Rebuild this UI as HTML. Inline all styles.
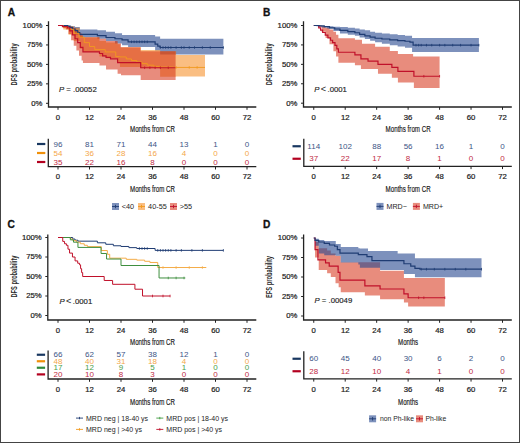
<!DOCTYPE html>
<html><head><meta charset="utf-8"><style>
html,body{margin:0;padding:0;background:#fff;}
body{width:520px;height:443px;overflow:hidden;position:relative;}
svg{position:absolute;left:0;top:0;font-family:"Liberation Sans", sans-serif;}
.frame{position:absolute;left:0;top:0;width:520px;height:443px;box-sizing:border-box;border:1.25px solid #444;}
</style></head><body>
<svg width="520" height="443" viewBox="0 0 520 443">
<rect x="0" y="0" width="520" height="443" fill="#fff"/>
<g>
<text x="7.80" y="15.80" font-size="10.20" fill="#111" text-anchor="start" font-weight="bold" stroke="#111" stroke-width="0.3">A</text>
<path d="M58.00 25.50 L67.71 25.50 L67.71 25.50 L71.12 25.50 L71.12 26.28 L75.06 26.28 L75.06 27.06 L79.79 27.06 L79.79 29.47 L97.38 29.47 L97.38 30.17 L106.04 30.17 L106.04 31.72 L114.96 31.72 L114.96 33.28 L122.05 33.28 L122.05 34.99 L128.09 34.99 L128.09 34.99 L155.12 34.99 L155.12 36.39 L160.11 36.39 L160.11 38.73 L223.38 38.73 L223.38 54.44 L160.11 54.44 L160.11 50.40 L155.12 50.40 L155.12 46.97 L128.09 46.97 L128.09 45.34 L122.05 45.34 L122.05 43.39 L114.96 43.39 L114.96 41.06 L106.04 41.06 L106.04 38.73 L97.38 38.73 L97.38 37.17 L79.79 37.17 L79.79 34.84 L75.06 34.84 L75.06 30.95 L71.12 30.95 L71.12 27.83 L67.71 27.83 L67.71 25.50 L58.00 25.50 Z" fill="#26488f" fill-opacity="0.6"/>
<path d="M58.00 25.50 L63.25 25.50 L63.25 25.50 L68.50 25.50 L68.50 26.28 L73.75 26.28 L73.75 27.83 L79.79 27.83 L79.79 35.61 L82.94 35.61 L82.94 37.17 L99.47 37.17 L99.47 41.06 L106.04 41.06 L106.04 42.62 L117.59 42.62 L117.59 44.17 L119.95 44.17 L119.95 47.28 L140.69 47.28 L140.69 50.01 L160.11 50.01 L160.11 51.17 L176.12 51.17 L176.12 55.06 L205.00 55.06 L205.00 76.54 L176.12 76.54 L176.12 76.85 L160.11 76.85 L160.11 68.29 L140.69 68.29 L140.69 66.97 L119.95 66.97 L119.95 62.84 L117.59 62.84 L117.59 58.18 L106.04 58.18 L106.04 56.62 L99.47 56.62 L99.47 51.95 L82.94 51.95 L82.94 48.84 L79.79 48.84 L79.79 41.06 L73.75 41.06 L73.75 34.84 L68.50 34.84 L68.50 29.39 L63.25 29.39 L63.25 25.50 L58.00 25.50 Z" fill="#f57d05" fill-opacity="0.5"/>
<path d="M58.00 25.50 L63.25 25.50 L63.25 25.50 L65.88 25.50 L65.88 25.50 L68.50 25.50 L68.50 26.28 L71.12 26.28 L71.12 27.06 L73.75 27.06 L73.75 28.61 L76.38 28.61 L76.38 30.95 L79.00 30.95 L79.00 33.28 L81.62 33.28 L81.62 35.61 L82.94 35.61 L82.94 37.17 L99.47 37.17 L99.47 38.73 L106.04 38.73 L106.04 41.06 L117.59 41.06 L117.59 43.39 L121.00 43.39 L121.00 47.28 L140.69 47.28 L140.69 51.17 L175.60 51.17 L175.60 79.96 L140.69 79.96 L140.69 75.29 L121.00 75.29 L121.00 73.74 L117.59 73.74 L117.59 69.38 L106.04 69.38 L106.04 65.57 L99.47 65.57 L99.47 63.00 L82.94 63.00 L82.94 60.51 L81.62 60.51 L81.62 55.84 L79.00 55.84 L79.00 50.40 L76.38 50.40 L76.38 45.73 L73.75 45.73 L73.75 40.28 L71.12 40.28 L71.12 34.06 L68.50 34.06 L68.50 29.39 L65.88 29.39 L65.88 27.83 L63.25 27.83 L63.25 25.50 L58.00 25.50 Z" fill="#d52e13" fill-opacity="0.55"/>
<path d="M58.00 25.50 H67.71 V26.28 H69.81 V27.45 H72.44 V29.00 H75.06 V30.56 H77.69 V32.50 H79.79 V34.37 H97.38 V35.61 H106.04 V37.48 H114.96 V38.73 H122.05 V39.97 H128.09 V41.84 H155.12 V44.17 H157.75 V46.12 H160.11 V47.52 H223.38" fill="none" stroke="#1f3c73" stroke-width="1.2"/>
<path d="M58.00 25.50 H63.25 V27.06 H68.50 V29.39 H73.75 V33.28 H79.00 V37.17 H84.25 V42.62 H89.50 V46.51 H94.75 V49.62 H105.25 V51.95 H115.75 V56.62 H119.95 V56.93 H126.25 V58.95 H131.50 V60.51 H136.75 V62.07 H142.00 V63.62 H147.25 V65.18 H153.81 V66.34 H160.38 V67.05 H173.50 V67.43 H205.00" fill="none" stroke="#f29a1e" stroke-width="0.9"/>
<path d="M58.00 25.50 H62.46 V26.67 H67.45 V27.83 H69.81 V30.95 H72.44 V34.84 H75.06 V38.73 H77.69 V42.62 H80.31 V47.28 H82.94 V51.95 H99.47 V53.51 H102.62 V55.84 H106.04 V57.32 H110.50 V58.95 H117.59 V62.53 H140.69 V67.75 H175.60" fill="none" stroke="#c0102a" stroke-width="1.2"/>
<path d="M131.50 40.54 V43.14 M134.12 40.54 V43.14 M136.75 40.54 V43.14 M139.38 40.54 V43.14 M142.00 40.54 V43.14 M144.62 40.54 V43.14 M147.25 40.54 V43.14 " stroke="#1f3c73" stroke-width="0.8"/>
<path d="M160.38 46.22 V48.82 M163.00 46.22 V48.82 M165.62 46.22 V48.82 M168.25 46.22 V48.82 M170.88 46.22 V48.82 M176.12 46.22 V48.82 M181.38 46.22 V48.82 M184.00 46.22 V48.82 M189.25 46.22 V48.82 M194.50 46.22 V48.82 M202.38 46.22 V48.82 M210.25 46.22 V48.82 M223.38 46.22 V48.82 " stroke="#1f3c73" stroke-width="0.8"/>
<path d="M176.12 66.13 V68.73 M189.25 66.13 V68.73 M197.12 66.13 V68.73 " stroke="#f29a1e" stroke-width="0.8"/>
<path d="M144.62 66.45 V69.05 M149.88 66.45 V69.05 M155.12 66.45 V69.05 M160.38 66.45 V69.05 M168.25 66.45 V69.05 " stroke="#c0102a" stroke-width="0.8"/>
<path d="M48.50 21.30 V107.00 H256.30" fill="none" stroke="#222" stroke-width="1.3"/>
<path d="M46.00 25.50 H48.50" stroke="#222" stroke-width="1"/>
<text x="42.40" y="27.85" font-size="6.90" fill="#1e1e1e" text-anchor="end" font-weight="normal" stroke="#1e1e1e" stroke-width="0.2" textLength="19.77" lengthAdjust="spacingAndGlyphs">100%</text>
<path d="M46.00 44.95 H48.50" stroke="#222" stroke-width="1"/>
<text x="42.40" y="47.30" font-size="6.90" fill="#1e1e1e" text-anchor="end" font-weight="normal" stroke="#1e1e1e" stroke-width="0.2" textLength="15.47" lengthAdjust="spacingAndGlyphs">75%</text>
<path d="M46.00 64.40 H48.50" stroke="#222" stroke-width="1"/>
<text x="42.40" y="66.75" font-size="6.90" fill="#1e1e1e" text-anchor="end" font-weight="normal" stroke="#1e1e1e" stroke-width="0.2" textLength="15.47" lengthAdjust="spacingAndGlyphs">50%</text>
<path d="M46.00 83.85 H48.50" stroke="#222" stroke-width="1"/>
<text x="42.40" y="86.20" font-size="6.90" fill="#1e1e1e" text-anchor="end" font-weight="normal" stroke="#1e1e1e" stroke-width="0.2" textLength="15.47" lengthAdjust="spacingAndGlyphs">25%</text>
<path d="M46.00 103.30 H48.50" stroke="#222" stroke-width="1"/>
<text x="42.40" y="105.65" font-size="6.90" fill="#1e1e1e" text-anchor="end" font-weight="normal" stroke="#1e1e1e" stroke-width="0.2" textLength="11.17" lengthAdjust="spacingAndGlyphs">0%</text>
<path d="M58.00 107.00 V109.80" stroke="#222" stroke-width="1"/>
<text x="58.00" y="119.70" font-size="6.90" fill="#1e1e1e" text-anchor="middle" font-weight="normal" stroke="#1e1e1e" stroke-width="0.2" textLength="4.30" lengthAdjust="spacingAndGlyphs">0</text>
<path d="M89.50 107.00 V109.80" stroke="#222" stroke-width="1"/>
<text x="89.50" y="119.70" font-size="6.90" fill="#1e1e1e" text-anchor="middle" font-weight="normal" stroke="#1e1e1e" stroke-width="0.2" textLength="8.60" lengthAdjust="spacingAndGlyphs">12</text>
<path d="M121.00 107.00 V109.80" stroke="#222" stroke-width="1"/>
<text x="121.00" y="119.70" font-size="6.90" fill="#1e1e1e" text-anchor="middle" font-weight="normal" stroke="#1e1e1e" stroke-width="0.2" textLength="8.60" lengthAdjust="spacingAndGlyphs">24</text>
<path d="M152.50 107.00 V109.80" stroke="#222" stroke-width="1"/>
<text x="152.50" y="119.70" font-size="6.90" fill="#1e1e1e" text-anchor="middle" font-weight="normal" stroke="#1e1e1e" stroke-width="0.2" textLength="8.60" lengthAdjust="spacingAndGlyphs">36</text>
<path d="M184.00 107.00 V109.80" stroke="#222" stroke-width="1"/>
<text x="184.00" y="119.70" font-size="6.90" fill="#1e1e1e" text-anchor="middle" font-weight="normal" stroke="#1e1e1e" stroke-width="0.2" textLength="8.60" lengthAdjust="spacingAndGlyphs">48</text>
<path d="M215.50 107.00 V109.80" stroke="#222" stroke-width="1"/>
<text x="215.50" y="119.70" font-size="6.90" fill="#1e1e1e" text-anchor="middle" font-weight="normal" stroke="#1e1e1e" stroke-width="0.2" textLength="8.60" lengthAdjust="spacingAndGlyphs">60</text>
<path d="M247.00 107.00 V109.80" stroke="#222" stroke-width="1"/>
<text x="247.00" y="119.70" font-size="6.90" fill="#1e1e1e" text-anchor="middle" font-weight="normal" stroke="#1e1e1e" stroke-width="0.2" textLength="8.60" lengthAdjust="spacingAndGlyphs">72</text>
<text x="0" y="0" font-size="8.7" font-weight="bold" fill="#2a2a2a" text-anchor="middle" textLength="42.0" lengthAdjust="spacingAndGlyphs" transform="translate(17.40 64.40) rotate(-90)">DFS probability</text>
<text x="59.00" y="91.50" font-size="7.75" fill="#222" text-anchor="start" font-weight="normal" stroke="#222" stroke-width="0.15"><tspan font-style="italic">P</tspan> = .00052</text>
<text x="152.50" y="131.90" font-size="9.00" fill="#1a1a1a" text-anchor="middle" font-weight="normal" stroke="#1a1a1a" stroke-width="0.18" textLength="45.0" lengthAdjust="spacingAndGlyphs">Months from CR</text>
<path d="M48.30 138.80 V166.70 H256.30" fill="none" stroke="#222" stroke-width="1.3"/>
<path d="M37.00 144.00 H45.30" stroke="#183760" stroke-width="2.2"/>
<text x="58.00" y="146.50" font-size="7.00" fill="#3d5586" text-anchor="middle" font-weight="normal"  textLength="8.95" lengthAdjust="spacingAndGlyphs">96</text>
<text x="89.50" y="146.50" font-size="7.00" fill="#3d5586" text-anchor="middle" font-weight="normal"  textLength="8.95" lengthAdjust="spacingAndGlyphs">81</text>
<text x="121.00" y="146.50" font-size="7.00" fill="#3d5586" text-anchor="middle" font-weight="normal"  textLength="8.95" lengthAdjust="spacingAndGlyphs">71</text>
<text x="152.50" y="146.50" font-size="7.00" fill="#3d5586" text-anchor="middle" font-weight="normal"  textLength="8.95" lengthAdjust="spacingAndGlyphs">44</text>
<text x="184.00" y="146.50" font-size="7.00" fill="#3d5586" text-anchor="middle" font-weight="normal"  textLength="8.95" lengthAdjust="spacingAndGlyphs">13</text>
<text x="215.50" y="146.50" font-size="7.00" fill="#3d5586" text-anchor="middle" font-weight="normal"  textLength="4.48" lengthAdjust="spacingAndGlyphs">1</text>
<text x="247.00" y="146.50" font-size="7.00" fill="#3d5586" text-anchor="middle" font-weight="normal"  textLength="4.48" lengthAdjust="spacingAndGlyphs">0</text>
<path d="M37.00 153.00 H45.30" stroke="#f0900a" stroke-width="2.2"/>
<text x="58.00" y="155.50" font-size="7.00" fill="#f4a74a" text-anchor="middle" font-weight="normal"  textLength="8.95" lengthAdjust="spacingAndGlyphs">54</text>
<text x="89.50" y="155.50" font-size="7.00" fill="#f4a74a" text-anchor="middle" font-weight="normal"  textLength="8.95" lengthAdjust="spacingAndGlyphs">36</text>
<text x="121.00" y="155.50" font-size="7.00" fill="#f4a74a" text-anchor="middle" font-weight="normal"  textLength="8.95" lengthAdjust="spacingAndGlyphs">28</text>
<text x="152.50" y="155.50" font-size="7.00" fill="#f4a74a" text-anchor="middle" font-weight="normal"  textLength="8.95" lengthAdjust="spacingAndGlyphs">16</text>
<text x="184.00" y="155.50" font-size="7.00" fill="#f4a74a" text-anchor="middle" font-weight="normal"  textLength="4.48" lengthAdjust="spacingAndGlyphs">4</text>
<text x="215.50" y="155.50" font-size="7.00" fill="#f4a74a" text-anchor="middle" font-weight="normal"  textLength="4.48" lengthAdjust="spacingAndGlyphs">0</text>
<text x="247.00" y="155.50" font-size="7.00" fill="#f4a74a" text-anchor="middle" font-weight="normal"  textLength="4.48" lengthAdjust="spacingAndGlyphs">0</text>
<path d="M37.00 162.00 H45.30" stroke="#b3001f" stroke-width="2.2"/>
<text x="58.00" y="164.50" font-size="7.00" fill="#c02a45" text-anchor="middle" font-weight="normal"  textLength="8.95" lengthAdjust="spacingAndGlyphs">35</text>
<text x="89.50" y="164.50" font-size="7.00" fill="#c02a45" text-anchor="middle" font-weight="normal"  textLength="8.95" lengthAdjust="spacingAndGlyphs">22</text>
<text x="121.00" y="164.50" font-size="7.00" fill="#c02a45" text-anchor="middle" font-weight="normal"  textLength="8.95" lengthAdjust="spacingAndGlyphs">16</text>
<text x="152.50" y="164.50" font-size="7.00" fill="#c02a45" text-anchor="middle" font-weight="normal"  textLength="4.48" lengthAdjust="spacingAndGlyphs">8</text>
<text x="184.00" y="164.50" font-size="7.00" fill="#c02a45" text-anchor="middle" font-weight="normal"  textLength="4.48" lengthAdjust="spacingAndGlyphs">0</text>
<text x="215.50" y="164.50" font-size="7.00" fill="#c02a45" text-anchor="middle" font-weight="normal"  textLength="4.48" lengthAdjust="spacingAndGlyphs">0</text>
<text x="247.00" y="164.50" font-size="7.00" fill="#c02a45" text-anchor="middle" font-weight="normal"  textLength="4.48" lengthAdjust="spacingAndGlyphs">0</text>
<path d="M58.00 166.70 V169.50" stroke="#222" stroke-width="1"/>
<text x="58.00" y="179.40" font-size="6.90" fill="#1e1e1e" text-anchor="middle" font-weight="normal" stroke="#1e1e1e" stroke-width="0.2" textLength="4.30" lengthAdjust="spacingAndGlyphs">0</text>
<path d="M89.50 166.70 V169.50" stroke="#222" stroke-width="1"/>
<text x="89.50" y="179.40" font-size="6.90" fill="#1e1e1e" text-anchor="middle" font-weight="normal" stroke="#1e1e1e" stroke-width="0.2" textLength="8.60" lengthAdjust="spacingAndGlyphs">12</text>
<path d="M121.00 166.70 V169.50" stroke="#222" stroke-width="1"/>
<text x="121.00" y="179.40" font-size="6.90" fill="#1e1e1e" text-anchor="middle" font-weight="normal" stroke="#1e1e1e" stroke-width="0.2" textLength="8.60" lengthAdjust="spacingAndGlyphs">24</text>
<path d="M152.50 166.70 V169.50" stroke="#222" stroke-width="1"/>
<text x="152.50" y="179.40" font-size="6.90" fill="#1e1e1e" text-anchor="middle" font-weight="normal" stroke="#1e1e1e" stroke-width="0.2" textLength="8.60" lengthAdjust="spacingAndGlyphs">36</text>
<path d="M184.00 166.70 V169.50" stroke="#222" stroke-width="1"/>
<text x="184.00" y="179.40" font-size="6.90" fill="#1e1e1e" text-anchor="middle" font-weight="normal" stroke="#1e1e1e" stroke-width="0.2" textLength="8.60" lengthAdjust="spacingAndGlyphs">48</text>
<path d="M215.50 166.70 V169.50" stroke="#222" stroke-width="1"/>
<text x="215.50" y="179.40" font-size="6.90" fill="#1e1e1e" text-anchor="middle" font-weight="normal" stroke="#1e1e1e" stroke-width="0.2" textLength="8.60" lengthAdjust="spacingAndGlyphs">60</text>
<path d="M247.00 166.70 V169.50" stroke="#222" stroke-width="1"/>
<text x="247.00" y="179.40" font-size="6.90" fill="#1e1e1e" text-anchor="middle" font-weight="normal" stroke="#1e1e1e" stroke-width="0.2" textLength="8.60" lengthAdjust="spacingAndGlyphs">72</text>
<text x="152.50" y="191.60" font-size="9.00" fill="#1a1a1a" text-anchor="middle" font-weight="normal" stroke="#1a1a1a" stroke-width="0.18" textLength="45.0" lengthAdjust="spacingAndGlyphs">Months from CR</text>
<rect x="112.00" y="203.00" width="7" height="7" fill="#26488f" fill-opacity="0.60"/>
<path d="M112.00 206.50 H119.00 M115.50 204.80 V208.20" stroke="#1f3c73" stroke-width="0.9"/>
<text x="121.80" y="208.90" font-size="7.30" fill="#1e1e1e" text-anchor="start" font-weight="normal" >&lt;40</text>
<rect x="138.00" y="203.00" width="7" height="7" fill="#f57d05" fill-opacity="0.50"/>
<path d="M138.00 206.50 H145.00 M141.50 204.80 V208.20" stroke="#f29a1e" stroke-width="0.9"/>
<text x="148.10" y="208.90" font-size="7.30" fill="#1e1e1e" text-anchor="start" font-weight="normal" >40-55</text>
<rect x="170.00" y="203.00" width="7" height="7" fill="#d52e13" fill-opacity="0.55"/>
<path d="M170.00 206.50 H177.00 M173.50 204.80 V208.20" stroke="#c0102a" stroke-width="0.9"/>
<text x="179.80" y="208.90" font-size="7.30" fill="#1e1e1e" text-anchor="start" font-weight="normal" >&gt;55</text>
</g>
<g>
<text x="263.10" y="15.70" font-size="10.20" fill="#111" text-anchor="start" font-weight="bold" stroke="#111" stroke-width="0.3">B</text>
<path d="M313.75 25.50 L317.94 25.50 L317.94 25.50 L321.61 25.50 L321.61 26.28 L325.55 26.28 L325.55 27.83 L329.48 27.83 L329.48 29.39 L333.41 29.39 L333.41 31.72 L336.03 31.72 L336.03 34.82 L338.39 34.82 L338.39 38.17 L354.91 38.17 L354.91 39.80 L360.94 39.80 L360.94 39.80 L361.99 39.80 L361.99 43.68 L375.09 43.68 L375.09 46.87 L377.98 46.87 L377.98 46.87 L389.77 46.87 L389.77 50.91 L391.87 50.91 L391.87 50.91 L397.90 50.91 L397.90 54.02 L413.10 54.02 L413.10 56.42 L413.89 56.42 L413.89 56.42 L439.58 56.42 L439.58 87.97 L413.89 87.97 L413.89 82.53 L413.10 82.53 L413.10 82.53 L397.90 82.53 L397.90 77.71 L391.87 77.71 L391.87 73.83 L389.77 73.83 L389.77 73.83 L377.98 73.83 L377.98 69.01 L375.09 69.01 L375.09 69.01 L361.99 69.01 L361.99 69.01 L360.94 69.01 L360.94 65.13 L354.91 65.13 L354.91 62.87 L338.39 62.87 L338.39 56.58 L336.03 56.58 L336.03 51.14 L333.41 51.14 L333.41 44.15 L329.48 44.15 L329.48 37.93 L325.55 37.93 L325.55 31.72 L321.61 31.72 L321.61 27.05 L317.94 27.05 L317.94 25.50 L313.75 25.50 Z" fill="#d52e13" fill-opacity="0.55"/>
<path d="M313.75 25.50 L316.37 25.50 L316.37 25.50 L321.61 25.50 L321.61 25.89 L326.86 25.89 L326.86 26.28 L333.41 26.28 L333.41 26.67 L339.97 26.67 L339.97 27.05 L347.83 27.05 L347.83 27.83 L354.91 27.83 L354.91 28.61 L359.63 28.61 L359.63 29.39 L364.87 29.39 L364.87 30.32 L370.11 30.32 L370.11 31.72 L375.09 31.72 L375.09 32.73 L381.91 32.73 L381.91 33.43 L389.77 33.43 L389.77 34.20 L397.64 34.20 L397.64 35.06 L404.98 35.06 L404.98 35.83 L412.06 35.83 L412.06 38.01 L478.90 38.01 L478.90 51.92 L412.06 51.92 L412.06 47.72 L404.98 47.72 L404.98 46.48 L397.64 46.48 L397.64 45.31 L389.77 45.31 L389.77 43.76 L381.91 43.76 L381.91 42.21 L375.09 42.21 L375.09 40.65 L370.11 40.65 L370.11 39.02 L364.87 39.02 L364.87 37.54 L359.63 37.54 L359.63 35.83 L354.91 35.83 L354.91 34.82 L347.83 34.82 L347.83 33.43 L339.97 33.43 L339.97 30.94 L333.41 30.94 L333.41 28.61 L326.86 28.61 L326.86 27.44 L321.61 27.44 L321.61 26.28 L316.37 26.28 L316.37 25.50 L313.75 25.50 Z" fill="#26488f" fill-opacity="0.6"/>
<path d="M313.75 25.50 H318.73 V27.83 H320.57 V30.16 H322.66 V32.49 H325.28 V35.21 H327.91 V37.93 H330.53 V40.26 H332.62 V42.59 H334.98 V45.39 H336.82 V48.81 H338.39 V52.23 H354.91 V54.79 H360.94 V58.83 H368.02 V61.09 H377.98 V64.35 H391.87 V67.46 H397.90 V71.42 H413.89 V76.24 H439.58" fill="none" stroke="#c0102a" stroke-width="1.2"/>
<path d="M313.75 25.50 H318.99 V25.89 H324.24 V26.67 H329.48 V27.83 H334.72 V29.00 H339.97 V30.32 H347.83 V31.72 H354.91 V32.73 H359.63 V34.44 H364.87 V35.83 H370.11 V37.16 H375.09 V38.24 H381.91 V39.02 H389.77 V39.80 H397.64 V40.57 H404.98 V41.27 H409.96 V42.21 H413.10 V45.16 H478.90" fill="none" stroke="#1f3c73" stroke-width="1.2"/>
<path d="M415.99 43.86 V46.46 M418.61 43.86 V46.46 M421.23 43.86 V46.46 M426.47 43.86 V46.46 M431.72 43.86 V46.46 M439.58 43.86 V46.46 M444.83 43.86 V46.46 M452.69 43.86 V46.46 M460.55 43.86 V46.46 M471.04 43.86 V46.46 M478.90 43.86 V46.46 " stroke="#1f3c73" stroke-width="0.8"/>
<path d="M423.85 74.94 V77.54 M439.58 74.94 V77.54 " stroke="#c0102a" stroke-width="0.8"/>
<path d="M303.50 21.30 V107.00 H511.80" fill="none" stroke="#222" stroke-width="1.3"/>
<path d="M301.00 25.50 H303.50" stroke="#222" stroke-width="1"/>
<text x="297.40" y="27.85" font-size="6.90" fill="#1e1e1e" text-anchor="end" font-weight="normal" stroke="#1e1e1e" stroke-width="0.2" textLength="19.77" lengthAdjust="spacingAndGlyphs">100%</text>
<path d="M301.00 44.92 H303.50" stroke="#222" stroke-width="1"/>
<text x="297.40" y="47.27" font-size="6.90" fill="#1e1e1e" text-anchor="end" font-weight="normal" stroke="#1e1e1e" stroke-width="0.2" textLength="15.47" lengthAdjust="spacingAndGlyphs">75%</text>
<path d="M301.00 64.35 H303.50" stroke="#222" stroke-width="1"/>
<text x="297.40" y="66.70" font-size="6.90" fill="#1e1e1e" text-anchor="end" font-weight="normal" stroke="#1e1e1e" stroke-width="0.2" textLength="15.47" lengthAdjust="spacingAndGlyphs">50%</text>
<path d="M301.00 83.78 H303.50" stroke="#222" stroke-width="1"/>
<text x="297.40" y="86.12" font-size="6.90" fill="#1e1e1e" text-anchor="end" font-weight="normal" stroke="#1e1e1e" stroke-width="0.2" textLength="15.47" lengthAdjust="spacingAndGlyphs">25%</text>
<path d="M301.00 103.20 H303.50" stroke="#222" stroke-width="1"/>
<text x="297.40" y="105.55" font-size="6.90" fill="#1e1e1e" text-anchor="end" font-weight="normal" stroke="#1e1e1e" stroke-width="0.2" textLength="11.17" lengthAdjust="spacingAndGlyphs">0%</text>
<path d="M313.75 107.00 V109.80" stroke="#222" stroke-width="1"/>
<text x="313.75" y="119.70" font-size="6.90" fill="#1e1e1e" text-anchor="middle" font-weight="normal" stroke="#1e1e1e" stroke-width="0.2" textLength="4.30" lengthAdjust="spacingAndGlyphs">0</text>
<path d="M345.21 107.00 V109.80" stroke="#222" stroke-width="1"/>
<text x="345.21" y="119.70" font-size="6.90" fill="#1e1e1e" text-anchor="middle" font-weight="normal" stroke="#1e1e1e" stroke-width="0.2" textLength="8.60" lengthAdjust="spacingAndGlyphs">12</text>
<path d="M376.67 107.00 V109.80" stroke="#222" stroke-width="1"/>
<text x="376.67" y="119.70" font-size="6.90" fill="#1e1e1e" text-anchor="middle" font-weight="normal" stroke="#1e1e1e" stroke-width="0.2" textLength="8.60" lengthAdjust="spacingAndGlyphs">24</text>
<path d="M408.12 107.00 V109.80" stroke="#222" stroke-width="1"/>
<text x="408.12" y="119.70" font-size="6.90" fill="#1e1e1e" text-anchor="middle" font-weight="normal" stroke="#1e1e1e" stroke-width="0.2" textLength="8.60" lengthAdjust="spacingAndGlyphs">36</text>
<path d="M439.58 107.00 V109.80" stroke="#222" stroke-width="1"/>
<text x="439.58" y="119.70" font-size="6.90" fill="#1e1e1e" text-anchor="middle" font-weight="normal" stroke="#1e1e1e" stroke-width="0.2" textLength="8.60" lengthAdjust="spacingAndGlyphs">48</text>
<path d="M471.04 107.00 V109.80" stroke="#222" stroke-width="1"/>
<text x="471.04" y="119.70" font-size="6.90" fill="#1e1e1e" text-anchor="middle" font-weight="normal" stroke="#1e1e1e" stroke-width="0.2" textLength="8.60" lengthAdjust="spacingAndGlyphs">60</text>
<path d="M502.50 107.00 V109.80" stroke="#222" stroke-width="1"/>
<text x="502.50" y="119.70" font-size="6.90" fill="#1e1e1e" text-anchor="middle" font-weight="normal" stroke="#1e1e1e" stroke-width="0.2" textLength="8.60" lengthAdjust="spacingAndGlyphs">72</text>
<text x="0" y="0" font-size="8.7" font-weight="bold" fill="#2a2a2a" text-anchor="middle" textLength="42.0" lengthAdjust="spacingAndGlyphs" transform="translate(272.40 64.35) rotate(-90)">DFS probability</text>
<text x="314.30" y="91.50" font-size="7.75" fill="#222" text-anchor="start" font-weight="normal" font-style="italic" stroke="#222" stroke-width="0.15">P</text>
<text x="320.70" y="91.90" font-size="9.20" fill="#222" text-anchor="start" font-weight="normal" >&lt;</text>
<text x="327.50" y="91.50" font-size="7.75" fill="#222" text-anchor="start" font-weight="normal" stroke="#222" stroke-width="0.15">.0001</text>
<text x="408.12" y="131.90" font-size="9.00" fill="#1a1a1a" text-anchor="middle" font-weight="normal" stroke="#1a1a1a" stroke-width="0.18" textLength="45.0" lengthAdjust="spacingAndGlyphs">Months from CR</text>
<path d="M303.80 138.80 V166.30 H511.80" fill="none" stroke="#222" stroke-width="1.3"/>
<path d="M292.50 146.25 H300.80" stroke="#183760" stroke-width="2.2"/>
<text x="313.75" y="148.75" font-size="7.00" fill="#3d5586" text-anchor="middle" font-weight="normal"  textLength="12.83" lengthAdjust="spacingAndGlyphs">114</text>
<text x="345.21" y="148.75" font-size="7.00" fill="#3d5586" text-anchor="middle" font-weight="normal"  textLength="13.43" lengthAdjust="spacingAndGlyphs">102</text>
<text x="376.67" y="148.75" font-size="7.00" fill="#3d5586" text-anchor="middle" font-weight="normal"  textLength="8.95" lengthAdjust="spacingAndGlyphs">88</text>
<text x="408.12" y="148.75" font-size="7.00" fill="#3d5586" text-anchor="middle" font-weight="normal"  textLength="8.95" lengthAdjust="spacingAndGlyphs">56</text>
<text x="439.58" y="148.75" font-size="7.00" fill="#3d5586" text-anchor="middle" font-weight="normal"  textLength="8.95" lengthAdjust="spacingAndGlyphs">16</text>
<text x="471.04" y="148.75" font-size="7.00" fill="#3d5586" text-anchor="middle" font-weight="normal"  textLength="4.48" lengthAdjust="spacingAndGlyphs">1</text>
<text x="502.50" y="148.75" font-size="7.00" fill="#3d5586" text-anchor="middle" font-weight="normal"  textLength="4.48" lengthAdjust="spacingAndGlyphs">0</text>
<path d="M292.50 158.75 H300.80" stroke="#b3001f" stroke-width="2.2"/>
<text x="313.75" y="161.25" font-size="7.00" fill="#c02a45" text-anchor="middle" font-weight="normal"  textLength="8.95" lengthAdjust="spacingAndGlyphs">37</text>
<text x="345.21" y="161.25" font-size="7.00" fill="#c02a45" text-anchor="middle" font-weight="normal"  textLength="8.95" lengthAdjust="spacingAndGlyphs">22</text>
<text x="376.67" y="161.25" font-size="7.00" fill="#c02a45" text-anchor="middle" font-weight="normal"  textLength="8.95" lengthAdjust="spacingAndGlyphs">17</text>
<text x="408.12" y="161.25" font-size="7.00" fill="#c02a45" text-anchor="middle" font-weight="normal"  textLength="4.48" lengthAdjust="spacingAndGlyphs">8</text>
<text x="439.58" y="161.25" font-size="7.00" fill="#c02a45" text-anchor="middle" font-weight="normal"  textLength="4.48" lengthAdjust="spacingAndGlyphs">1</text>
<text x="471.04" y="161.25" font-size="7.00" fill="#c02a45" text-anchor="middle" font-weight="normal"  textLength="4.48" lengthAdjust="spacingAndGlyphs">0</text>
<text x="502.50" y="161.25" font-size="7.00" fill="#c02a45" text-anchor="middle" font-weight="normal"  textLength="4.48" lengthAdjust="spacingAndGlyphs">0</text>
<path d="M313.75 166.30 V169.10" stroke="#222" stroke-width="1"/>
<text x="313.75" y="179.00" font-size="6.90" fill="#1e1e1e" text-anchor="middle" font-weight="normal" stroke="#1e1e1e" stroke-width="0.2" textLength="4.30" lengthAdjust="spacingAndGlyphs">0</text>
<path d="M345.21 166.30 V169.10" stroke="#222" stroke-width="1"/>
<text x="345.21" y="179.00" font-size="6.90" fill="#1e1e1e" text-anchor="middle" font-weight="normal" stroke="#1e1e1e" stroke-width="0.2" textLength="8.60" lengthAdjust="spacingAndGlyphs">12</text>
<path d="M376.67 166.30 V169.10" stroke="#222" stroke-width="1"/>
<text x="376.67" y="179.00" font-size="6.90" fill="#1e1e1e" text-anchor="middle" font-weight="normal" stroke="#1e1e1e" stroke-width="0.2" textLength="8.60" lengthAdjust="spacingAndGlyphs">24</text>
<path d="M408.12 166.30 V169.10" stroke="#222" stroke-width="1"/>
<text x="408.12" y="179.00" font-size="6.90" fill="#1e1e1e" text-anchor="middle" font-weight="normal" stroke="#1e1e1e" stroke-width="0.2" textLength="8.60" lengthAdjust="spacingAndGlyphs">36</text>
<path d="M439.58 166.30 V169.10" stroke="#222" stroke-width="1"/>
<text x="439.58" y="179.00" font-size="6.90" fill="#1e1e1e" text-anchor="middle" font-weight="normal" stroke="#1e1e1e" stroke-width="0.2" textLength="8.60" lengthAdjust="spacingAndGlyphs">48</text>
<path d="M471.04 166.30 V169.10" stroke="#222" stroke-width="1"/>
<text x="471.04" y="179.00" font-size="6.90" fill="#1e1e1e" text-anchor="middle" font-weight="normal" stroke="#1e1e1e" stroke-width="0.2" textLength="8.60" lengthAdjust="spacingAndGlyphs">60</text>
<path d="M502.50 166.30 V169.10" stroke="#222" stroke-width="1"/>
<text x="502.50" y="179.00" font-size="6.90" fill="#1e1e1e" text-anchor="middle" font-weight="normal" stroke="#1e1e1e" stroke-width="0.2" textLength="8.60" lengthAdjust="spacingAndGlyphs">72</text>
<text x="408.12" y="191.90" font-size="9.00" fill="#1a1a1a" text-anchor="middle" font-weight="normal" stroke="#1a1a1a" stroke-width="0.18" textLength="45.0" lengthAdjust="spacingAndGlyphs">Months from CR</text>
<rect x="376.50" y="202.90" width="7" height="7" fill="#26488f" fill-opacity="0.60"/>
<path d="M376.50 206.40 H383.50 M380.00 204.70 V208.10" stroke="#1f3c73" stroke-width="0.9"/>
<text x="386.50" y="208.90" font-size="7.10" fill="#1e1e1e" text-anchor="start" font-weight="normal" >MRD−</text>
<rect x="412.90" y="202.90" width="7" height="7" fill="#d52e13" fill-opacity="0.55"/>
<path d="M412.90 206.40 H419.90 M416.40 204.70 V208.10" stroke="#c0102a" stroke-width="0.9"/>
<text x="422.90" y="208.90" font-size="7.10" fill="#1e1e1e" text-anchor="start" font-weight="normal" >MRD+</text>
</g>
<g>
<text x="7.60" y="227.60" font-size="10.20" fill="#111" text-anchor="start" font-weight="bold" stroke="#111" stroke-width="0.3">C</text>
<path d="M58.00 237.50 H72.70 V239.06 H75.06 V240.23 H77.95 V241.17 H97.38 V242.80 H105.78 V244.29 H113.39 V245.77 H121.00 V246.47 H128.88 V247.64 H136.75 V248.50 H155.12 V250.37 H223.38" fill="none" stroke="#1f3c73" stroke-width="1.0"/>
<path d="M58.00 237.50 H70.34 V239.06 H72.96 V240.62 H76.38 V242.18 H80.31 V243.74 H84.25 V245.30 H87.40 V246.63 H101.31 V250.53 H107.35 V254.27 H109.71 V258.17 H126.25 V259.34 H136.75 V260.12 H144.62 V261.29 H149.88 V262.46 H157.75 V267.53 H206.31" fill="none" stroke="#f4ac48" stroke-width="1.0"/>
<path d="M58.00 237.50 H70.34 V239.84 H73.49 V242.18 H77.95 V247.41 H101.05 V253.49 H106.56 V259.03 H121.00 V265.50 H159.06 V277.98 H185.31" fill="none" stroke="#3f8f3f" stroke-width="1.0"/>
<path d="M58.00 237.50 H62.73 V241.40 H64.56 V243.74 H66.40 V245.30 H67.97 V249.20 H69.55 V253.10 H72.44 V257.00 H75.06 V260.90 H77.69 V263.24 H79.53 V264.80 H80.58 V268.70 H81.62 V272.60 H82.67 V276.50 H104.20 V280.48 H112.60 V284.30 H134.91 V289.21 H142.53 V296.00 H170.09" fill="none" stroke="#c0102a" stroke-width="1.0"/>
<path d="M157.75 249.07 V251.67 M160.38 249.07 V251.67 M163.00 249.07 V251.67 M165.62 249.07 V251.67 M168.25 249.07 V251.67 M170.88 249.07 V251.67 M176.12 249.07 V251.67 M181.38 249.07 V251.67 M191.88 249.07 V251.67 M202.38 249.07 V251.67 M223.38 249.07 V251.67 " stroke="#1f3c73" stroke-width="0.8"/>
<path d="M139.38 247.20 V249.80 M142.00 247.20 V249.80 M144.62 247.20 V249.80 M147.25 247.20 V249.80 " stroke="#1f3c73" stroke-width="0.8"/>
<path d="M163.00 266.23 V268.83 M176.12 266.23 V268.83 M189.25 266.23 V268.83 M202.38 266.23 V268.83 " stroke="#f4ac48" stroke-width="0.8"/>
<path d="M168.25 276.68 V279.28 M176.12 276.68 V279.28 M184.00 276.68 V279.28 " stroke="#3f8f3f" stroke-width="0.8"/>
<path d="M152.50 294.70 V297.30 M163.00 294.70 V297.30 M170.09 294.70 V297.30 " stroke="#c0102a" stroke-width="0.8"/>
<path d="M47.80 234.40 V320.00 H256.30" fill="none" stroke="#222" stroke-width="1.3"/>
<path d="M45.30 237.50 H47.80" stroke="#222" stroke-width="1"/>
<text x="41.70" y="239.85" font-size="6.90" fill="#1e1e1e" text-anchor="end" font-weight="normal" stroke="#1e1e1e" stroke-width="0.2" textLength="19.77" lengthAdjust="spacingAndGlyphs">100%</text>
<path d="M45.30 257.00 H47.80" stroke="#222" stroke-width="1"/>
<text x="41.70" y="259.35" font-size="6.90" fill="#1e1e1e" text-anchor="end" font-weight="normal" stroke="#1e1e1e" stroke-width="0.2" textLength="15.47" lengthAdjust="spacingAndGlyphs">75%</text>
<path d="M45.30 276.50 H47.80" stroke="#222" stroke-width="1"/>
<text x="41.70" y="278.85" font-size="6.90" fill="#1e1e1e" text-anchor="end" font-weight="normal" stroke="#1e1e1e" stroke-width="0.2" textLength="15.47" lengthAdjust="spacingAndGlyphs">50%</text>
<path d="M45.30 296.00 H47.80" stroke="#222" stroke-width="1"/>
<text x="41.70" y="298.35" font-size="6.90" fill="#1e1e1e" text-anchor="end" font-weight="normal" stroke="#1e1e1e" stroke-width="0.2" textLength="15.47" lengthAdjust="spacingAndGlyphs">25%</text>
<path d="M45.30 315.50 H47.80" stroke="#222" stroke-width="1"/>
<text x="41.70" y="317.85" font-size="6.90" fill="#1e1e1e" text-anchor="end" font-weight="normal" stroke="#1e1e1e" stroke-width="0.2" textLength="11.17" lengthAdjust="spacingAndGlyphs">0%</text>
<path d="M58.00 320.00 V322.80" stroke="#222" stroke-width="1"/>
<text x="58.00" y="332.70" font-size="6.90" fill="#1e1e1e" text-anchor="middle" font-weight="normal" stroke="#1e1e1e" stroke-width="0.2" textLength="4.30" lengthAdjust="spacingAndGlyphs">0</text>
<path d="M89.50 320.00 V322.80" stroke="#222" stroke-width="1"/>
<text x="89.50" y="332.70" font-size="6.90" fill="#1e1e1e" text-anchor="middle" font-weight="normal" stroke="#1e1e1e" stroke-width="0.2" textLength="8.60" lengthAdjust="spacingAndGlyphs">12</text>
<path d="M121.00 320.00 V322.80" stroke="#222" stroke-width="1"/>
<text x="121.00" y="332.70" font-size="6.90" fill="#1e1e1e" text-anchor="middle" font-weight="normal" stroke="#1e1e1e" stroke-width="0.2" textLength="8.60" lengthAdjust="spacingAndGlyphs">24</text>
<path d="M152.50 320.00 V322.80" stroke="#222" stroke-width="1"/>
<text x="152.50" y="332.70" font-size="6.90" fill="#1e1e1e" text-anchor="middle" font-weight="normal" stroke="#1e1e1e" stroke-width="0.2" textLength="8.60" lengthAdjust="spacingAndGlyphs">36</text>
<path d="M184.00 320.00 V322.80" stroke="#222" stroke-width="1"/>
<text x="184.00" y="332.70" font-size="6.90" fill="#1e1e1e" text-anchor="middle" font-weight="normal" stroke="#1e1e1e" stroke-width="0.2" textLength="8.60" lengthAdjust="spacingAndGlyphs">48</text>
<path d="M215.50 320.00 V322.80" stroke="#222" stroke-width="1"/>
<text x="215.50" y="332.70" font-size="6.90" fill="#1e1e1e" text-anchor="middle" font-weight="normal" stroke="#1e1e1e" stroke-width="0.2" textLength="8.60" lengthAdjust="spacingAndGlyphs">60</text>
<path d="M247.00 320.00 V322.80" stroke="#222" stroke-width="1"/>
<text x="247.00" y="332.70" font-size="6.90" fill="#1e1e1e" text-anchor="middle" font-weight="normal" stroke="#1e1e1e" stroke-width="0.2" textLength="8.60" lengthAdjust="spacingAndGlyphs">72</text>
<text x="0" y="0" font-size="8.7" font-weight="bold" fill="#2a2a2a" text-anchor="middle" textLength="42.0" lengthAdjust="spacingAndGlyphs" transform="translate(17.40 276.50) rotate(-90)">DFS probability</text>
<text x="59.60" y="303.90" font-size="7.75" fill="#222" text-anchor="start" font-weight="normal" font-style="italic" stroke="#222" stroke-width="0.15">P</text>
<text x="66.00" y="304.30" font-size="9.20" fill="#222" text-anchor="start" font-weight="normal" >&lt;</text>
<text x="72.80" y="303.90" font-size="7.75" fill="#222" text-anchor="start" font-weight="normal" stroke="#222" stroke-width="0.15">.0001</text>
<text x="152.50" y="344.60" font-size="9.00" fill="#1a1a1a" text-anchor="middle" font-weight="normal" stroke="#1a1a1a" stroke-width="0.18" textLength="45.0" lengthAdjust="spacingAndGlyphs">Months from CR</text>
<path d="M48.10 350.60 V379.00 H256.30" fill="none" stroke="#222" stroke-width="1.3"/>
<path d="M36.80 354.75 H45.10" stroke="#183760" stroke-width="2.2"/>
<text x="58.00" y="357.25" font-size="7.00" fill="#3d5586" text-anchor="middle" font-weight="normal"  textLength="8.95" lengthAdjust="spacingAndGlyphs">66</text>
<text x="89.50" y="357.25" font-size="7.00" fill="#3d5586" text-anchor="middle" font-weight="normal"  textLength="8.95" lengthAdjust="spacingAndGlyphs">62</text>
<text x="121.00" y="357.25" font-size="7.00" fill="#3d5586" text-anchor="middle" font-weight="normal"  textLength="8.95" lengthAdjust="spacingAndGlyphs">57</text>
<text x="152.50" y="357.25" font-size="7.00" fill="#3d5586" text-anchor="middle" font-weight="normal"  textLength="8.95" lengthAdjust="spacingAndGlyphs">38</text>
<text x="184.00" y="357.25" font-size="7.00" fill="#3d5586" text-anchor="middle" font-weight="normal"  textLength="8.95" lengthAdjust="spacingAndGlyphs">12</text>
<text x="215.50" y="357.25" font-size="7.00" fill="#3d5586" text-anchor="middle" font-weight="normal"  textLength="4.48" lengthAdjust="spacingAndGlyphs">1</text>
<text x="247.00" y="357.25" font-size="7.00" fill="#3d5586" text-anchor="middle" font-weight="normal"  textLength="4.48" lengthAdjust="spacingAndGlyphs">0</text>
<path d="M36.80 361.25 H45.10" stroke="#f0900a" stroke-width="2.2"/>
<text x="58.00" y="363.75" font-size="7.00" fill="#f4a74a" text-anchor="middle" font-weight="normal"  textLength="8.95" lengthAdjust="spacingAndGlyphs">48</text>
<text x="89.50" y="363.75" font-size="7.00" fill="#f4a74a" text-anchor="middle" font-weight="normal"  textLength="8.95" lengthAdjust="spacingAndGlyphs">40</text>
<text x="121.00" y="363.75" font-size="7.00" fill="#f4a74a" text-anchor="middle" font-weight="normal"  textLength="8.95" lengthAdjust="spacingAndGlyphs">31</text>
<text x="152.50" y="363.75" font-size="7.00" fill="#f4a74a" text-anchor="middle" font-weight="normal"  textLength="8.95" lengthAdjust="spacingAndGlyphs">18</text>
<text x="184.00" y="363.75" font-size="7.00" fill="#f4a74a" text-anchor="middle" font-weight="normal"  textLength="4.48" lengthAdjust="spacingAndGlyphs">4</text>
<text x="215.50" y="363.75" font-size="7.00" fill="#f4a74a" text-anchor="middle" font-weight="normal"  textLength="4.48" lengthAdjust="spacingAndGlyphs">0</text>
<text x="247.00" y="363.75" font-size="7.00" fill="#f4a74a" text-anchor="middle" font-weight="normal"  textLength="4.48" lengthAdjust="spacingAndGlyphs">0</text>
<path d="M36.80 367.75 H45.10" stroke="#2f8a3a" stroke-width="2.2"/>
<text x="58.00" y="370.25" font-size="7.00" fill="#4a9e4a" text-anchor="middle" font-weight="normal"  textLength="8.95" lengthAdjust="spacingAndGlyphs">17</text>
<text x="89.50" y="370.25" font-size="7.00" fill="#4a9e4a" text-anchor="middle" font-weight="normal"  textLength="8.95" lengthAdjust="spacingAndGlyphs">12</text>
<text x="121.00" y="370.25" font-size="7.00" fill="#4a9e4a" text-anchor="middle" font-weight="normal"  textLength="4.48" lengthAdjust="spacingAndGlyphs">9</text>
<text x="152.50" y="370.25" font-size="7.00" fill="#4a9e4a" text-anchor="middle" font-weight="normal"  textLength="4.48" lengthAdjust="spacingAndGlyphs">5</text>
<text x="184.00" y="370.25" font-size="7.00" fill="#4a9e4a" text-anchor="middle" font-weight="normal"  textLength="4.48" lengthAdjust="spacingAndGlyphs">1</text>
<text x="215.50" y="370.25" font-size="7.00" fill="#4a9e4a" text-anchor="middle" font-weight="normal"  textLength="4.48" lengthAdjust="spacingAndGlyphs">0</text>
<text x="247.00" y="370.25" font-size="7.00" fill="#4a9e4a" text-anchor="middle" font-weight="normal"  textLength="4.48" lengthAdjust="spacingAndGlyphs">0</text>
<path d="M36.80 374.40 H45.10" stroke="#b3001f" stroke-width="2.2"/>
<text x="58.00" y="376.90" font-size="7.00" fill="#c02a45" text-anchor="middle" font-weight="normal"  textLength="8.95" lengthAdjust="spacingAndGlyphs">20</text>
<text x="89.50" y="376.90" font-size="7.00" fill="#c02a45" text-anchor="middle" font-weight="normal"  textLength="8.95" lengthAdjust="spacingAndGlyphs">10</text>
<text x="121.00" y="376.90" font-size="7.00" fill="#c02a45" text-anchor="middle" font-weight="normal"  textLength="4.48" lengthAdjust="spacingAndGlyphs">8</text>
<text x="152.50" y="376.90" font-size="7.00" fill="#c02a45" text-anchor="middle" font-weight="normal"  textLength="4.48" lengthAdjust="spacingAndGlyphs">3</text>
<text x="184.00" y="376.90" font-size="7.00" fill="#c02a45" text-anchor="middle" font-weight="normal"  textLength="4.48" lengthAdjust="spacingAndGlyphs">0</text>
<text x="215.50" y="376.90" font-size="7.00" fill="#c02a45" text-anchor="middle" font-weight="normal"  textLength="4.48" lengthAdjust="spacingAndGlyphs">0</text>
<text x="247.00" y="376.90" font-size="7.00" fill="#c02a45" text-anchor="middle" font-weight="normal"  textLength="4.48" lengthAdjust="spacingAndGlyphs">0</text>
<path d="M58.00 379.00 V381.80" stroke="#222" stroke-width="1"/>
<text x="58.00" y="391.70" font-size="6.90" fill="#1e1e1e" text-anchor="middle" font-weight="normal" stroke="#1e1e1e" stroke-width="0.2" textLength="4.30" lengthAdjust="spacingAndGlyphs">0</text>
<path d="M89.50 379.00 V381.80" stroke="#222" stroke-width="1"/>
<text x="89.50" y="391.70" font-size="6.90" fill="#1e1e1e" text-anchor="middle" font-weight="normal" stroke="#1e1e1e" stroke-width="0.2" textLength="8.60" lengthAdjust="spacingAndGlyphs">12</text>
<path d="M121.00 379.00 V381.80" stroke="#222" stroke-width="1"/>
<text x="121.00" y="391.70" font-size="6.90" fill="#1e1e1e" text-anchor="middle" font-weight="normal" stroke="#1e1e1e" stroke-width="0.2" textLength="8.60" lengthAdjust="spacingAndGlyphs">24</text>
<path d="M152.50 379.00 V381.80" stroke="#222" stroke-width="1"/>
<text x="152.50" y="391.70" font-size="6.90" fill="#1e1e1e" text-anchor="middle" font-weight="normal" stroke="#1e1e1e" stroke-width="0.2" textLength="8.60" lengthAdjust="spacingAndGlyphs">36</text>
<path d="M184.00 379.00 V381.80" stroke="#222" stroke-width="1"/>
<text x="184.00" y="391.70" font-size="6.90" fill="#1e1e1e" text-anchor="middle" font-weight="normal" stroke="#1e1e1e" stroke-width="0.2" textLength="8.60" lengthAdjust="spacingAndGlyphs">48</text>
<path d="M215.50 379.00 V381.80" stroke="#222" stroke-width="1"/>
<text x="215.50" y="391.70" font-size="6.90" fill="#1e1e1e" text-anchor="middle" font-weight="normal" stroke="#1e1e1e" stroke-width="0.2" textLength="8.60" lengthAdjust="spacingAndGlyphs">60</text>
<path d="M247.00 379.00 V381.80" stroke="#222" stroke-width="1"/>
<text x="247.00" y="391.70" font-size="6.90" fill="#1e1e1e" text-anchor="middle" font-weight="normal" stroke="#1e1e1e" stroke-width="0.2" textLength="8.60" lengthAdjust="spacingAndGlyphs">72</text>
<text x="152.50" y="404.50" font-size="9.00" fill="#1a1a1a" text-anchor="middle" font-weight="normal" stroke="#1a1a1a" stroke-width="0.18" textLength="45.0" lengthAdjust="spacingAndGlyphs">Months from CR</text>
<path d="M76.00 418.10 H83.00 M79.50 416.90 V419.30" stroke="#1f3c73" stroke-width="0.9"/>
<text x="86.00" y="420.60" font-size="7.00" fill="#1e1e1e" text-anchor="start" font-weight="normal" >MRD neg | 18-40 ys</text>
<path d="M156.30 418.10 H163.30 M159.80 416.90 V419.30" stroke="#3f9b3f" stroke-width="0.9"/>
<text x="166.30" y="420.60" font-size="7.00" fill="#1e1e1e" text-anchor="start" font-weight="normal" >MRD pos | 18-40 ys</text>
<path d="M76.00 429.40 H83.00 M79.50 428.20 V430.60" stroke="#f29a1e" stroke-width="0.9"/>
<text x="86.00" y="431.90" font-size="7.00" fill="#1e1e1e" text-anchor="start" font-weight="normal" >MRD neg | &gt;40 ys</text>
<path d="M156.30 429.40 H163.30 M159.80 428.20 V430.60" stroke="#c0102a" stroke-width="0.9"/>
<text x="166.30" y="431.90" font-size="7.00" fill="#1e1e1e" text-anchor="start" font-weight="normal" >MRD pos | &gt;40 ys</text>
</g>
<g>
<text x="263.00" y="227.60" font-size="10.20" fill="#111" text-anchor="start" font-weight="bold" stroke="#111" stroke-width="0.3">D</text>
<path d="M313.75 238.00 L315.06 238.00 L315.06 241.90 L318.73 241.90 L318.73 248.14 L327.12 248.14 L327.12 250.48 L330.79 250.48 L330.79 253.60 L335.51 253.60 L335.51 255.78 L338.65 255.78 L338.65 255.78 L340.75 255.78 L340.75 262.18 L364.87 262.18 L364.87 262.18 L380.07 262.18 L380.07 270.76 L403.93 270.76 L403.93 278.01 L408.12 278.01 L408.12 278.01 L444.83 278.01 L444.83 306.48 L408.12 306.48 L408.12 302.51 L403.93 302.51 L403.93 299.31 L380.07 299.31 L380.07 295.41 L364.87 295.41 L364.87 292.21 L340.75 292.21 L340.75 287.14 L338.65 287.14 L338.65 283.24 L335.51 283.24 L335.51 277.00 L330.79 277.00 L330.79 273.26 L327.12 273.26 L327.12 269.98 L318.73 269.98 L318.73 257.50 L315.06 257.50 L315.06 238.00 L313.75 238.00 Z" fill="#d52e13" fill-opacity="0.55"/>
<path d="M313.75 238.00 L315.06 238.00 L315.06 238.78 L318.73 238.78 L318.73 240.03 L324.24 240.03 L324.24 241.12 L335.77 241.12 L335.77 243.93 L340.75 243.93 L340.75 246.97 L358.32 246.97 L358.32 248.22 L359.89 248.22 L359.89 248.45 L368.02 248.45 L368.02 251.03 L380.07 251.03 L380.07 251.03 L397.64 251.03 L397.64 253.52 L403.93 253.52 L403.93 253.52 L414.94 253.52 L414.94 258.20 L481.53 258.20 L481.53 277.23 L414.94 277.23 L414.94 274.04 L403.93 274.04 L403.93 269.98 L397.64 269.98 L397.64 269.98 L380.07 269.98 L380.07 267.72 L368.02 267.72 L368.02 267.72 L359.89 267.72 L359.89 264.52 L358.32 264.52 L358.32 262.57 L340.75 262.57 L340.75 255.78 L335.77 255.78 L335.77 255.16 L324.24 255.16 L324.24 253.60 L318.73 253.60 L318.73 245.80 L315.06 245.80 L315.06 238.00 L313.75 238.00 Z" fill="#26488f" fill-opacity="0.6"/>
<path d="M313.75 238.00 H315.06 V249.70 H317.94 V259.84 H325.55 V262.96 H329.22 V266.08 H338.13 V272.32 H339.97 V280.12 H364.87 V285.89 H380.07 V289.01 H403.93 V293.85 H408.12 V297.75 H444.83" fill="none" stroke="#c0102a" stroke-width="1.2"/>
<path d="M313.75 238.00 H315.06 V240.34 H318.73 V241.98 H324.24 V243.46 H329.48 V245.02 H334.72 V246.27 H337.34 V249.70 H339.97 V253.21 H358.32 V254.61 H366.97 V256.64 H371.95 V260.62 H403.93 V263.74 H410.75 V266.08 H414.94 V268.42 H419.92 V269.20 H481.53" fill="none" stroke="#1f3c73" stroke-width="1.2"/>
<path d="M421.23 267.90 V270.50 M426.47 267.90 V270.50 M434.34 267.90 V270.50 M444.83 267.90 V270.50 M455.31 267.90 V270.50 M465.80 267.90 V270.50 M481.53 267.90 V270.50 " stroke="#1f3c73" stroke-width="0.8"/>
<path d="M418.61 296.45 V299.05 M423.85 296.45 V299.05 M444.83 296.45 V299.05 " stroke="#c0102a" stroke-width="0.8"/>
<path d="M303.60 234.60 V320.00 H511.80" fill="none" stroke="#222" stroke-width="1.3"/>
<path d="M301.10 238.00 H303.60" stroke="#222" stroke-width="1"/>
<text x="297.50" y="240.35" font-size="6.90" fill="#1e1e1e" text-anchor="end" font-weight="normal" stroke="#1e1e1e" stroke-width="0.2" textLength="19.77" lengthAdjust="spacingAndGlyphs">100%</text>
<path d="M301.10 257.50 H303.60" stroke="#222" stroke-width="1"/>
<text x="297.50" y="259.85" font-size="6.90" fill="#1e1e1e" text-anchor="end" font-weight="normal" stroke="#1e1e1e" stroke-width="0.2" textLength="15.47" lengthAdjust="spacingAndGlyphs">75%</text>
<path d="M301.10 277.00 H303.60" stroke="#222" stroke-width="1"/>
<text x="297.50" y="279.35" font-size="6.90" fill="#1e1e1e" text-anchor="end" font-weight="normal" stroke="#1e1e1e" stroke-width="0.2" textLength="15.47" lengthAdjust="spacingAndGlyphs">50%</text>
<path d="M301.10 296.50 H303.60" stroke="#222" stroke-width="1"/>
<text x="297.50" y="298.85" font-size="6.90" fill="#1e1e1e" text-anchor="end" font-weight="normal" stroke="#1e1e1e" stroke-width="0.2" textLength="15.47" lengthAdjust="spacingAndGlyphs">25%</text>
<path d="M301.10 316.00 H303.60" stroke="#222" stroke-width="1"/>
<text x="297.50" y="318.35" font-size="6.90" fill="#1e1e1e" text-anchor="end" font-weight="normal" stroke="#1e1e1e" stroke-width="0.2" textLength="11.17" lengthAdjust="spacingAndGlyphs">0%</text>
<path d="M313.75 320.00 V322.80" stroke="#222" stroke-width="1"/>
<text x="313.75" y="332.70" font-size="6.90" fill="#1e1e1e" text-anchor="middle" font-weight="normal" stroke="#1e1e1e" stroke-width="0.2" textLength="4.30" lengthAdjust="spacingAndGlyphs">0</text>
<path d="M345.21 320.00 V322.80" stroke="#222" stroke-width="1"/>
<text x="345.21" y="332.70" font-size="6.90" fill="#1e1e1e" text-anchor="middle" font-weight="normal" stroke="#1e1e1e" stroke-width="0.2" textLength="8.60" lengthAdjust="spacingAndGlyphs">12</text>
<path d="M376.67 320.00 V322.80" stroke="#222" stroke-width="1"/>
<text x="376.67" y="332.70" font-size="6.90" fill="#1e1e1e" text-anchor="middle" font-weight="normal" stroke="#1e1e1e" stroke-width="0.2" textLength="8.60" lengthAdjust="spacingAndGlyphs">24</text>
<path d="M408.12 320.00 V322.80" stroke="#222" stroke-width="1"/>
<text x="408.12" y="332.70" font-size="6.90" fill="#1e1e1e" text-anchor="middle" font-weight="normal" stroke="#1e1e1e" stroke-width="0.2" textLength="8.60" lengthAdjust="spacingAndGlyphs">36</text>
<path d="M439.58 320.00 V322.80" stroke="#222" stroke-width="1"/>
<text x="439.58" y="332.70" font-size="6.90" fill="#1e1e1e" text-anchor="middle" font-weight="normal" stroke="#1e1e1e" stroke-width="0.2" textLength="8.60" lengthAdjust="spacingAndGlyphs">48</text>
<path d="M471.04 320.00 V322.80" stroke="#222" stroke-width="1"/>
<text x="471.04" y="332.70" font-size="6.90" fill="#1e1e1e" text-anchor="middle" font-weight="normal" stroke="#1e1e1e" stroke-width="0.2" textLength="8.60" lengthAdjust="spacingAndGlyphs">60</text>
<path d="M502.50 320.00 V322.80" stroke="#222" stroke-width="1"/>
<text x="502.50" y="332.70" font-size="6.90" fill="#1e1e1e" text-anchor="middle" font-weight="normal" stroke="#1e1e1e" stroke-width="0.2" textLength="8.60" lengthAdjust="spacingAndGlyphs">72</text>
<text x="0" y="0" font-size="8.7" font-weight="bold" fill="#2a2a2a" text-anchor="middle" textLength="42.0" lengthAdjust="spacingAndGlyphs" transform="translate(272.40 277.00) rotate(-90)">EFS probability</text>
<text x="314.50" y="303.20" font-size="7.75" fill="#222" text-anchor="start" font-weight="normal" stroke="#222" stroke-width="0.15"><tspan font-style="italic">P</tspan> = .00049</text>
<text x="408.12" y="344.80" font-size="9.00" fill="#1a1a1a" text-anchor="middle" font-weight="normal" stroke="#1a1a1a" stroke-width="0.18" textLength="20.0" lengthAdjust="spacingAndGlyphs">Months</text>
<path d="M303.80 351.20 V378.80 H511.80" fill="none" stroke="#222" stroke-width="1.3"/>
<path d="M292.50 358.75 H300.80" stroke="#183760" stroke-width="2.2"/>
<text x="313.75" y="361.25" font-size="7.00" fill="#3d5586" text-anchor="middle" font-weight="normal"  textLength="8.95" lengthAdjust="spacingAndGlyphs">60</text>
<text x="345.21" y="361.25" font-size="7.00" fill="#3d5586" text-anchor="middle" font-weight="normal"  textLength="8.95" lengthAdjust="spacingAndGlyphs">45</text>
<text x="376.67" y="361.25" font-size="7.00" fill="#3d5586" text-anchor="middle" font-weight="normal"  textLength="8.95" lengthAdjust="spacingAndGlyphs">40</text>
<text x="408.12" y="361.25" font-size="7.00" fill="#3d5586" text-anchor="middle" font-weight="normal"  textLength="8.95" lengthAdjust="spacingAndGlyphs">30</text>
<text x="439.58" y="361.25" font-size="7.00" fill="#3d5586" text-anchor="middle" font-weight="normal"  textLength="4.48" lengthAdjust="spacingAndGlyphs">6</text>
<text x="471.04" y="361.25" font-size="7.00" fill="#3d5586" text-anchor="middle" font-weight="normal"  textLength="4.48" lengthAdjust="spacingAndGlyphs">2</text>
<text x="502.50" y="361.25" font-size="7.00" fill="#3d5586" text-anchor="middle" font-weight="normal"  textLength="4.48" lengthAdjust="spacingAndGlyphs">0</text>
<path d="M292.50 371.25 H300.80" stroke="#b3001f" stroke-width="2.2"/>
<text x="313.75" y="373.75" font-size="7.00" fill="#c02a45" text-anchor="middle" font-weight="normal"  textLength="8.95" lengthAdjust="spacingAndGlyphs">28</text>
<text x="345.21" y="373.75" font-size="7.00" fill="#c02a45" text-anchor="middle" font-weight="normal"  textLength="8.95" lengthAdjust="spacingAndGlyphs">12</text>
<text x="376.67" y="373.75" font-size="7.00" fill="#c02a45" text-anchor="middle" font-weight="normal"  textLength="8.95" lengthAdjust="spacingAndGlyphs">10</text>
<text x="408.12" y="373.75" font-size="7.00" fill="#c02a45" text-anchor="middle" font-weight="normal"  textLength="4.48" lengthAdjust="spacingAndGlyphs">4</text>
<text x="439.58" y="373.75" font-size="7.00" fill="#c02a45" text-anchor="middle" font-weight="normal"  textLength="4.48" lengthAdjust="spacingAndGlyphs">1</text>
<text x="471.04" y="373.75" font-size="7.00" fill="#c02a45" text-anchor="middle" font-weight="normal"  textLength="4.48" lengthAdjust="spacingAndGlyphs">0</text>
<text x="502.50" y="373.75" font-size="7.00" fill="#c02a45" text-anchor="middle" font-weight="normal"  textLength="4.48" lengthAdjust="spacingAndGlyphs">0</text>
<path d="M313.75 378.80 V381.60" stroke="#222" stroke-width="1"/>
<text x="313.75" y="391.50" font-size="6.90" fill="#1e1e1e" text-anchor="middle" font-weight="normal" stroke="#1e1e1e" stroke-width="0.2" textLength="4.30" lengthAdjust="spacingAndGlyphs">0</text>
<path d="M345.21 378.80 V381.60" stroke="#222" stroke-width="1"/>
<text x="345.21" y="391.50" font-size="6.90" fill="#1e1e1e" text-anchor="middle" font-weight="normal" stroke="#1e1e1e" stroke-width="0.2" textLength="8.60" lengthAdjust="spacingAndGlyphs">12</text>
<path d="M376.67 378.80 V381.60" stroke="#222" stroke-width="1"/>
<text x="376.67" y="391.50" font-size="6.90" fill="#1e1e1e" text-anchor="middle" font-weight="normal" stroke="#1e1e1e" stroke-width="0.2" textLength="8.60" lengthAdjust="spacingAndGlyphs">24</text>
<path d="M408.12 378.80 V381.60" stroke="#222" stroke-width="1"/>
<text x="408.12" y="391.50" font-size="6.90" fill="#1e1e1e" text-anchor="middle" font-weight="normal" stroke="#1e1e1e" stroke-width="0.2" textLength="8.60" lengthAdjust="spacingAndGlyphs">36</text>
<path d="M439.58 378.80 V381.60" stroke="#222" stroke-width="1"/>
<text x="439.58" y="391.50" font-size="6.90" fill="#1e1e1e" text-anchor="middle" font-weight="normal" stroke="#1e1e1e" stroke-width="0.2" textLength="8.60" lengthAdjust="spacingAndGlyphs">48</text>
<path d="M471.04 378.80 V381.60" stroke="#222" stroke-width="1"/>
<text x="471.04" y="391.50" font-size="6.90" fill="#1e1e1e" text-anchor="middle" font-weight="normal" stroke="#1e1e1e" stroke-width="0.2" textLength="8.60" lengthAdjust="spacingAndGlyphs">60</text>
<path d="M502.50 378.80 V381.60" stroke="#222" stroke-width="1"/>
<text x="502.50" y="391.50" font-size="6.90" fill="#1e1e1e" text-anchor="middle" font-weight="normal" stroke="#1e1e1e" stroke-width="0.2" textLength="8.60" lengthAdjust="spacingAndGlyphs">72</text>
<text x="408.12" y="404.50" font-size="9.00" fill="#1a1a1a" text-anchor="middle" font-weight="normal" stroke="#1a1a1a" stroke-width="0.18" textLength="20.0" lengthAdjust="spacingAndGlyphs">Months</text>
<rect x="369.10" y="415.30" width="7" height="7" fill="#26488f" fill-opacity="0.60"/>
<path d="M369.10 418.80 H376.10 M372.60 417.10 V420.50" stroke="#1f3c73" stroke-width="0.9"/>
<text x="380.00" y="420.60" font-size="6.80" fill="#1e1e1e" text-anchor="start" font-weight="normal" >non Ph-like</text>
<rect x="416.00" y="415.30" width="7" height="7" fill="#d52e13" fill-opacity="0.55"/>
<path d="M416.00 418.80 H423.00 M419.50 417.10 V420.50" stroke="#c0102a" stroke-width="0.9"/>
<text x="425.50" y="420.60" font-size="6.80" fill="#1e1e1e" text-anchor="start" font-weight="normal" >Ph-like</text>
</g>
</svg>
<div class="frame"></div>
</body></html>
